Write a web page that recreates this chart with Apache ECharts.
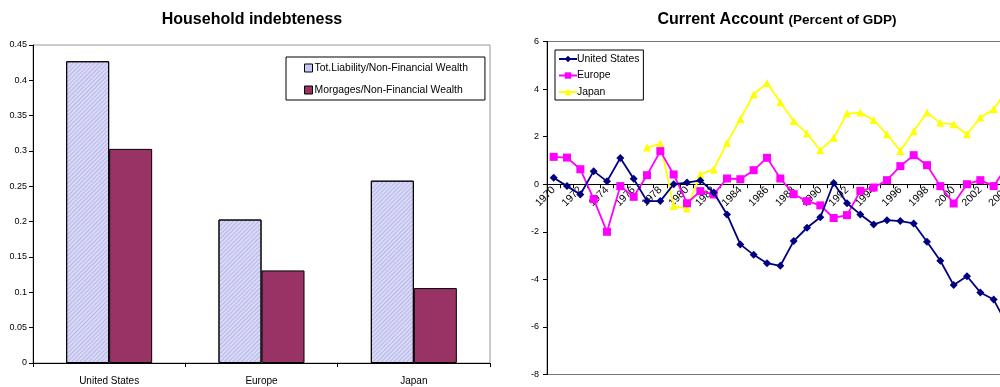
<!DOCTYPE html>
<html>
<head>
<meta charset="utf-8">
<script src="https://cdn.jsdelivr.net/npm/echarts@6/dist/echarts.min.js"></script>
<style>
    html, body { margin: 0; padding: 0; background: #fff; overflow: hidden; width: 1000px; height: 387px; }
    #main { width: 1060px; height: 387px; }
</style>
</head>
<body>
<div id="main"></div>
<script>
// left chart
var regions = ['United States', 'Europe', 'Japan'];
var totLiability = [0.427, 0.203, 0.258];
var mortgages = [0.303, 0.131, 0.106];

// right chart (percent of GDP)
var years = ['1970', '1971', '1972', '1973', '1974', '1975', '1976', '1977', '1978', '1979',
             '1980', '1981', '1982', '1983', '1984', '1985', '1986', '1987', '1988', '1989',
             '1990', '1991', '1992', '1993', '1994', '1995', '1996', '1997', '1998', '1999',
             '2000', '2001', '2002', '2003', '2004', '2005'];
var usCA = [0.27, -0.08, -0.43, 0.55, 0.12, 1.1, 0.23, -0.71, -0.71, 0.0,
            0.07, 0.16, -0.35, -1.27, -2.53, -2.97, -3.32, -3.43, -2.39, -1.83,
            -1.39, 0.05, -0.8, -1.27, -1.69, -1.51, -1.55, -1.65, -2.42, -3.22,
            -4.24, -3.87, -4.55, -4.85, -5.9, null];
var europeCA = [1.15, 1.12, 0.63, -0.63, -2.0, -0.08, -0.53, 0.38, 1.39, 0.41,
                -0.8, -0.29, -0.43, 0.24, 0.21, 0.59, 1.11, 0.24, -0.42, -0.71,
                -0.89, -1.42, -1.3, -0.28, -0.14, 0.17, 0.76, 1.22, 0.8, -0.08,
                -0.81, 0.0, 0.17, -0.08, 0.75, null];
var japanCA = [null, null, null, null, null, null, null, 1.54, 1.71, -0.92,
               -1.02, 0.41, 0.62, 1.74, 2.74, 3.77, 4.26, 3.45, 2.66, 2.13,
               1.43, 1.95, 2.97, 3.01, 2.70, 2.10, 1.40, 2.23, 3.01, 2.58,
               2.52, 2.10, 2.80, 3.15, 3.95, null];

var ff = 'Arial, "Liberation Sans", sans-serif';

// right plot: top 41.5, height 333, y from -8 to 6 -> zero line sits 190.3px above the bottom
var rTop = 41.5, rHeight = 333;
var zeroOffset = -rHeight * 8 / 14;

var myChart = echarts.init(document.getElementById('main'));
var option = {
    animation: false,
    textStyle: { fontFamily: ff },
    title: [
        {
            text: 'Household indebteness',
            left: 247, top: 7, textAlign: 'center',
            textStyle: { fontSize: 16, fontWeight: 'bold', color: '#000', fontFamily: ff }
        },
        {
            text: '{a|Current Account} {b|(Percent of GDP)}',
            left: 772, top: 6, textAlign: 'center',
            textStyle: {
                rich: {
                    a: { fontSize: 16, fontWeight: 'bold', color: '#000', fontFamily: ff },
                    b: { fontSize: 13.5, fontWeight: 'bold', color: '#000', fontFamily: ff }
                }
            }
        }
    ],
    legend: [
        {
            data: [
                { name: 'Tot.Liability/Non-Financial Wealth', itemStyle: { color: '#c8c8f4', decal: 'none', borderColor: '#000', borderWidth: 1 } },
                { name: 'Morgages/Non-Financial Wealth', itemStyle: { color: '#993366', borderColor: '#000', borderWidth: 1 } }
            ],
            orient: 'vertical',
            left: 286, top: 57,
            padding: [6, 17, 5, 18],
            itemGap: 12,
            itemWidth: 8, itemHeight: 8,
            icon: 'rect',
            borderColor: '#000', borderWidth: 1,
            textStyle: { fontSize: 10.4, color: '#000', fontFamily: ff, padding: [0, 0, 0, -3] }
        },
        {
            data: ['United States', 'Europe', 'Japan'],
            orient: 'vertical',
            left: 555, top: 50,
            padding: [4, 4, 3, 3],
            itemGap: 6.5,
            itemWidth: 18, itemHeight: 8,
            borderColor: '#000', borderWidth: 1,
            textStyle: { fontSize: 10.4, color: '#000', fontFamily: ff, padding: [0, 0, 0, -5] }
        }
    ],
    grid: [
        { left: 33, top: 45, width: 457, height: 318, show: true, borderColor: '#999', borderWidth: 1 },
        { left: 547, top: rTop, width: 480, height: rHeight, show: true, borderColor: '#777', borderWidth: 1 }
    ],
    xAxis: [
        {
            gridIndex: 0,
            type: 'category',
            data: regions,
            axisLine: { lineStyle: { color: '#000', width: 1 } },
            axisTick: { show: true, length: 4, inside: false, lineStyle: { color: '#000' } },
            axisLabel: { fontSize: 10, color: '#000', margin: 13 }
        },
        {
            gridIndex: 1,
            type: 'category',
            data: years,
            position: 'bottom',
            offset: zeroOffset,
            axisLine: { onZero: false, lineStyle: { color: '#000', width: 1 } },
            axisTick: { show: true, interval: 0, length: 4, lineStyle: { color: '#000' } },
            axisLabel: { fontSize: 10.5, color: '#000', rotate: 45, interval: 1, margin: 4 }
        }
    ],
    yAxis: [
        {
            gridIndex: 0,
            type: 'value',
            min: 0, max: 0.45, interval: 0.05,
            splitLine: { show: false },
            axisLine: { show: true, lineStyle: { color: '#000' } },
            axisTick: { show: true, length: 4, lineStyle: { color: '#000' } },
            axisLabel: { fontSize: 9, color: '#000', margin: 6 }
        },
        {
            gridIndex: 1,
            type: 'value',
            min: -8, max: 6, interval: 2,
            splitLine: { show: false },
            axisLine: { show: true, lineStyle: { color: '#000' } },
            axisTick: { show: true, length: 4, lineStyle: { color: '#000' } },
            axisLabel: { fontSize: 9, color: '#000', margin: 8 }
        }
    ],
    series: [
        {
            name: 'Tot.Liability/Non-Financial Wealth',
            type: 'bar',
            xAxisIndex: 0, yAxisIndex: 0,
            barWidth: 43,
            barGap: '0%',
            data: totLiability,
            itemStyle: {
                color: '#dadaf8',
                borderColor: '#000',
                borderWidth: 1,
                decal: {
                    symbol: 'rect',
                    symbolSize: 1,
                    color: 'rgba(140,140,210,0.45)',
                    dashArrayX: [1, 0],
                    dashArrayY: [1, 2],
                    rotation: -Math.PI / 4
                }
            }
        },
        {
            name: 'Morgages/Non-Financial Wealth',
            type: 'bar',
            xAxisIndex: 0, yAxisIndex: 0,
            barWidth: 43,
            barGap: '0%',
            data: mortgages,
            itemStyle: { color: '#993366', borderColor: '#000', borderWidth: 1 }
        },
        {
            name: 'United States',
            type: 'line',
            xAxisIndex: 1, yAxisIndex: 1,
            data: usCA,
            symbol: 'diamond', symbolSize: 8,
            color: '#000080',
            lineStyle: { width: 1.8, color: '#000080' },
            itemStyle: { color: '#000080' },
            z: 4
        },
        {
            name: 'Europe',
            type: 'line',
            xAxisIndex: 1, yAxisIndex: 1,
            data: europeCA,
            symbol: 'rect', symbolSize: 8,
            color: '#ff00ff',
            lineStyle: { width: 1.8, color: '#ff00ff' },
            itemStyle: { color: '#ff00ff' },
            z: 3
        },
        {
            name: 'Japan',
            type: 'line',
            xAxisIndex: 1, yAxisIndex: 1,
            data: japanCA,
            symbol: 'triangle', symbolSize: 8,
            color: '#ffff00',
            lineStyle: { width: 1.8, color: '#ffff00' },
            itemStyle: { color: '#ffff00' },
            z: 2
        }
    ]
};

myChart.setOption(option);
</script>
</body>
</html>
